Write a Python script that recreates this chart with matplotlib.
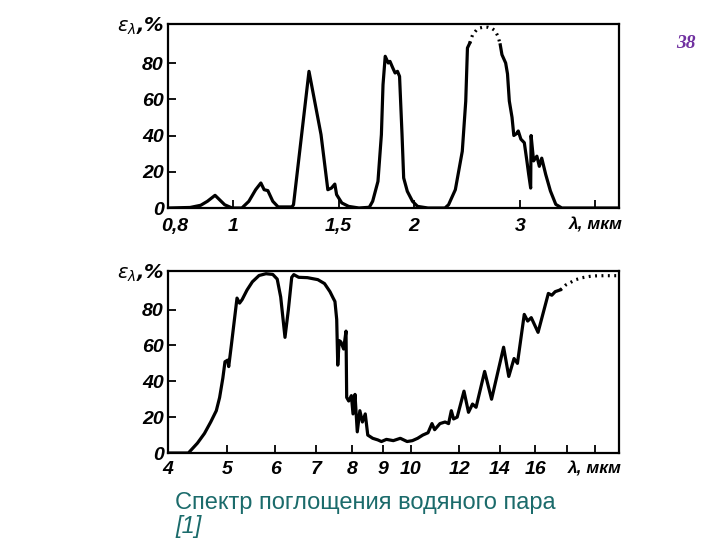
import matplotlib
matplotlib.use('Agg')
import matplotlib.pyplot as plt
from matplotlib.ticker import NullLocator, FixedLocator, FixedFormatter

plt.rcParams['mathtext.fontset'] = 'dejavusans'

# ---- 0.8 - 4.4 мкм (верхний график) ----
lam_top_a = [0.781, 0.85, 0.885, 0.908, 0.935, 0.951, 0.970, 0.998, 1.036, 1.064, 1.092, 1.114,
             1.128, 1.144, 1.166, 1.190, 1.254, 1.262, 1.339, 1.402, 1.439, 1.459, 1.478, 1.488,
             1.518, 1.558, 1.621, 1.686, 1.708, 1.743, 1.766, 1.777, 1.792, 1.813, 1.825, 1.845,
             1.861, 1.878, 1.893, 1.911, 1.923, 1.950, 1.989, 2.028, 2.110, 2.252, 2.283, 2.343,
             2.406, 2.438, 2.454, 2.476]
eps_top_a = [0, 0.3, 1.5, 3.7, 7.0, 4.6, 1.8, 0, 0, 3.7, 10.1, 13.8,
             10.1, 9.6, 3.7, 0.6, 0.6, 1.8, 75.4, 40.5, 10.1, 11, 13.2, 7.4,
             2.8, 0.9, 0, 0.4, 3.7, 14.7, 40.5, 68, 83.7, 80, 80.9, 77.2,
             74.5, 75.4, 72.6, 40.5, 16.6, 9.2, 3.7, 0.9, 0, 0, 1.8, 10.1,
             31.3, 58.9, 88.3, 91]
lam_top_dots = [2.476, 2.503, 2.54, 2.57, 2.61, 2.656, 2.70, 2.728, 2.76, 2.782]
eps_top_dots = [91, 95.6, 98.2, 99.3, 99.8, 99.7, 98.9, 97.8, 94.5, 90]
lam_top_b = [2.782, 2.80, 2.84, 2.86, 2.88, 2.91, 2.93, 2.96, 2.98, 3.01, 3.05, 3.08, 3.10,
             3.125, 3.13, 3.16, 3.20, 3.23, 3.26, 3.31, 3.37, 3.44, 3.52, 4.38]
eps_top_b = [90, 84.6, 80, 74, 59, 50, 40, 41, 42.5, 38, 36, 26, 19,
             11, 40, 26, 28.6, 23, 27.5, 18.5, 9.4, 2, 0, 0]
top_ticks = [0.8, 1, 1.5, 2, 3, 4]
top_ticklabels = ['0,8', '1', '1,5', '2', '3', 'λ, мкм']

# ---- 4 - 22 мкм (нижний график) ----
lam_bot = [4.0, 4.32, 4.47, 4.59, 4.70, 4.80, 4.86, 4.92, 4.96, 5.01, 5.03, 5.08, 5.14, 5.19,
           5.24, 5.29, 5.39, 5.50, 5.64, 5.79, 5.94, 6.04, 6.12, 6.22, 6.30, 6.38, 6.43, 6.55,
           6.77, 7.04, 7.22, 7.37, 7.46, 7.51, 7.56, 7.59, 7.63, 7.68, 7.76, 7.83, 7.85, 7.91,
           7.99, 8.04, 8.10, 8.17, 8.25, 8.33, 8.42, 8.50, 8.66, 8.83, 8.95, 9.12, 9.36, 9.61,
           9.86, 10.06, 10.26, 10.46, 10.67, 10.83, 10.94, 11.16, 11.38, 11.53, 11.65, 11.75,
           11.91, 12.22, 12.43, 12.62, 12.79, 13.21, 13.56, 14.19, 14.47, 14.76, 14.95, 15.34,
           15.54, 15.75, 16.16, 16.80, 17.02, 17.24, 17.58]
eps_bot = [0, 0, 5.5, 10.9, 17.3, 23.6, 30.9, 41.8, 50.9, 51.8, 48.2, 60, 74.5, 86.4,
           83.6, 85.5, 90.9, 95.5, 99, 100, 99.6, 97, 87, 64.5, 80, 98, 99.5, 98,
           97.8, 96.7, 94.5, 90, 86.4, 84.5, 74.5, 49, 62.7, 62, 58, 68, 31, 29,
           32, 21.8, 32.7, 11.8, 23.6, 17.3, 21.8, 10, 8.2, 7.3, 6.4, 7.6, 6.9, 8.2,
           6.4, 6.9, 8.2, 10, 11.3, 16.4, 13, 16.4, 17.3, 16.4, 23.6, 19,
           20, 34.5, 22.7, 27.3, 25.5, 45.5, 30, 59, 42.7, 52.7, 50, 77.3,
           73.6, 75.5, 67.3, 89, 88, 90, 91]
lam_bot_dots = [17.58, 17.92, 18.3, 18.64, 19.1, 19.63, 20.1, 20.68, 21.3, 21.93]
eps_bot_dots = [91, 93.6, 95.3, 96.7, 97.8, 98.5, 98.8, 98.9, 98.9, 98.9]
bot_ticks = [4, 5, 6, 7, 8, 9, 10, 12, 14, 16, 18, 20]
bot_ticklabels = ['4', '5', '6', '7', '8', '9', '10', '12', '14', '16', '', 'λ, мкм']

y_ticks = [0, 20, 40, 60, 80]

fig = plt.figure(figsize=(7.2, 5.4), dpi=100)
ax1 = fig.add_axes([0.2333, 0.6148, 0.6264, 0.3407])
ax2 = fig.add_axes([0.2333, 0.1611, 0.6264, 0.3370])

lw = 2.3
tick_font = dict(family=['Liberation Sans Narrow', 'Liberation Sans'], style='italic',
                 weight='bold', size=14)


def style_axes(ax, xlim, ticks, labels, xpad):
    ax.set_xscale('log')
    ax.set_xlim(*xlim)
    ax.set_ylim(0, 101.5)
    ax.xaxis.set_major_locator(FixedLocator(ticks))
    ax.xaxis.set_major_formatter(FixedFormatter(labels))
    ax.xaxis.set_minor_locator(NullLocator())
    ax.set_yticks(y_ticks)
    ax.set_yticklabels([str(v) for v in y_ticks])
    for s in ax.spines.values():
        s.set_linewidth(1.6)
    ax.tick_params(axis='both', direction='in', length=6, width=1.3)
    ax.tick_params(axis='x', pad=xpad)
    ax.tick_params(axis='y', pad=3)
    for lab in ax.get_xticklabels() + ax.get_yticklabels():
        lab.set_fontproperties(matplotlib.font_manager.FontProperties(**tick_font))
    ax.get_xticklabels()[-1].set_fontsize(12.5)
    ax.text(-0.008, 0.985, r'$\varepsilon_{\lambda}$,%', transform=ax.transAxes,
            ha='right', va='center', fontsize=14, fontweight='bold', style='italic')


ax1.plot(lam_top_a, eps_top_a, color='black', lw=lw)
ax1.plot(lam_top_b, eps_top_b, color='black', lw=lw)
ax1.plot(lam_top_dots, eps_top_dots, color='black', lw=lw, linestyle=(0, (0.6, 1.4)))
style_axes(ax1, (0.781, 4.38), top_ticks, top_ticklabels, 7)
ax1.xaxis.get_major_ticks()[0].tick1line.set_visible(False)

ax2.plot(lam_bot, eps_bot, color='black', lw=lw)
ax2.plot(lam_bot_dots, eps_bot_dots, color='black', lw=lw, linestyle=(0, (0.6, 1.4)))
style_axes(ax2, (4.0, 21.93), bot_ticks, bot_ticklabels, 6)

fig.text(686 / 720, 1 - 44 / 540, '38', color='#7030A0', fontsize=14, family='Liberation Serif',
         style='italic', weight='bold', ha='center', va='center')
fig.text(175 / 720, 1 - 503 / 540, 'Спектр поглощения водяного пара', color='#1b6b6b',
         fontsize=17, family='Liberation Sans', ha='left', va='center')
fig.text(175 / 720, 1 - 527 / 540, '[1]', color='#1b6b6b', fontsize=17,
         family='Liberation Sans', style='italic', ha='left', va='center')

fig.savefig('out.png', dpi=100)
